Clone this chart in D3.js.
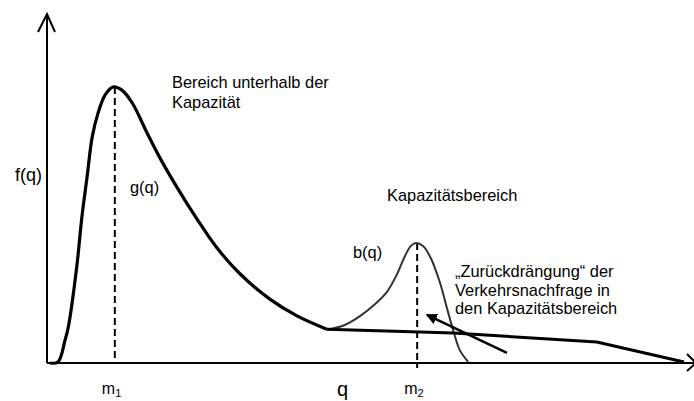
<!DOCTYPE html>
<html lang="de">
<head>
    <meta charset="UTF-8">
    <title>Verkehrsnachfrage f(q)</title>
    <style>
        body {
            margin: 0;
            background: #fff;
        }
        svg {
            display: block;
            font-family: "Liberation Sans", Arial, sans-serif;
        }
        .label {
            font-size: 16.4px;
            fill: #000;
        }
    </style>
    <script src="https://d3js.org/d3.v7.min.js"></script>
</head>
<body>
    <svg id="chart" width="694" height="401"></svg>
    <script>
        // total demand curve: g(q) below capacity, then the flat tail
        const gCurve = [
            [0.5, 0], [1.7, 0.3], [2.8, 6.6], [3.3, 10.3], [4.6, 27.5], [5.4, 41.8],
            [6.2, 53.3], [7.0, 64.8], [7.9, 71.6], [9.0, 76.8], [10.2, 79.1], [11.6, 78.2],
            [13.2, 74.5], [15.5, 65.9], [17.5, 58.7], [20.1, 50.4], [23.2, 41.3], [26.3, 33.0],
            [29.9, 25.5], [34.5, 18.3], [38.7, 13.5], [43.3, 9.7]
        ];
        const tail = [[43.3, 9.7], [62.9, 8.6], [85.1, 6.0], [98.6, 0.3]];

        // b(q): demand pushed into the capacity range
        const bCurve = [
            [43.3, 9.5], [46.1, 10.9], [48.5, 13.5], [50.8, 16.9], [52.6, 20.3], [54.2, 25.5],
            [55.4, 30.6], [56.3, 33.5], [57.1, 34.4], [58.2, 33.5], [59.4, 30.1], [60.8, 23.2],
            [61.9, 15.8], [63.0, 8.6], [63.9, 3.7], [65.2, 0.3]
        ];

        // modes m1, m2: [q, top of dashed line, bottom of dashed line]
        const modes = [
            { name: "m", sub: "1", q: 10.5, top: 79.1, bottom: 1.4 },
            { name: "m", sub: "2", q: 57.3, top: 34.4, bottom: -1.4 }
        ];

        // arrow "Zurückdrängung": from [q, f] to [q, f]
        const pushArrow = [[71.2, 2.9], [58.8, 13.8]];

        const svg = d3.select("#chart");

        const x = d3.scaleLinear().domain([0, 100]).range([47, 693]);
        const y = d3.scaleLinear().domain([0, 100]).range([363, 14]);

        const defs = svg.append("defs");
        defs.append("marker")
            .attr("id", "head")
            .attr("viewBox", "0 0 10 10")
            .attr("refX", 9)
            .attr("refY", 5)
            .attr("markerWidth", 11)
            .attr("markerHeight", 11)
            .attr("markerUnits", "userSpaceOnUse")
            .attr("orient", "auto")
            .append("path")
            .attr("d", "M0,0 L10,5 L0,10 z")
            .attr("fill", "#000");

        // axes (no ticks in this sketch)
        const ax = svg.append("g").attr("stroke", "#000").attr("fill", "none").attr("stroke-width", 2);
        ax.append("line")
            .attr("x1", x(0)).attr("y1", y(0))
            .attr("x2", x(0)).attr("y2", y(100));
        ax.append("path")
            .attr("d", `M${x(0) - 9},${y(100) + 18} L${x(0)},${y(100)} L${x(0) + 8},${y(100) + 18}`);
        ax.append("line")
            .attr("x1", x(0)).attr("y1", y(0))
            .attr("x2", x(100) + 2).attr("y2", y(0));
        ax.append("path")
            .attr("d", `M${x(100) - 6},${y(0) - 9} L${x(100) + 3},${y(0)} L${x(100) - 6},${y(0) + 8}`);

        const line = d3.line()
            .x(d => x(d[0]))
            .y(d => y(d[1]));

        // mode lines
        svg.selectAll(".mode")
            .data(modes)
            .enter().append("line")
            .attr("class", "mode")
            .attr("x1", d => x(d.q)).attr("x2", d => x(d.q))
            .attr("y1", d => y(d.top)).attr("y2", d => y(d.bottom))
            .attr("stroke", "#000")
            .attr("stroke-width", 2)
            .attr("stroke-dasharray", "7,4");

        svg.append("path")
            .datum(bCurve)
            .attr("d", line.curve(d3.curveCatmullRom))
            .attr("fill", "none")
            .attr("stroke", "#333")
            .attr("stroke-width", 2);

        svg.append("path")
            .datum(gCurve)
            .attr("d", line.curve(d3.curveCatmullRom))
            .attr("fill", "none")
            .attr("stroke", "#000")
            .attr("stroke-width", 3.2)
            .attr("stroke-linejoin", "round");

        svg.append("path")
            .datum(tail)
            .attr("d", line.curve(d3.curveLinear))
            .attr("fill", "none")
            .attr("stroke", "#000")
            .attr("stroke-width", 3)
            .attr("stroke-linejoin", "round");

        svg.append("line")
            .attr("x1", x(pushArrow[0][0])).attr("y1", y(pushArrow[0][1]))
            .attr("x2", x(pushArrow[1][0])).attr("y2", y(pushArrow[1][1]))
            .attr("stroke", "#000")
            .attr("stroke-width", 2.6)
            .attr("marker-end", "url(#head)");

        // texts
        const texts = [
            { t: "Bereich unterhalb der", x: 172, y: 88 },
            { t: "Kapazität", x: 172, y: 108 },
            { t: "g(q)", x: 130, y: 193 },
            { t: "Kapazitätsbereich", x: 387, y: 201 },
            { t: "b(q)", x: 353, y: 258 },
            { t: "\u201EZurückdrängung\u201C der", x: 455, y: 277 },
            { t: "Verkehrsnachfrage in", x: 455, y: 296 },
            { t: "den Kapazitätsbereich", x: 455, y: 314 }
        ];
        svg.selectAll(".label")
            .data(texts)
            .enter().append("text")
            .attr("class", "label")
            .attr("x", d => d.x)
            .attr("y", d => d.y)
            .text(d => d.t);

        svg.append("text")
            .attr("x", 15).attr("y", 181)
            .style("font-size", "18px")
            .attr("fill", "#000")
            .text("f(q)");

        svg.append("text")
            .attr("x", 337).attr("y", 396)
            .style("font-size", "20px")
            .attr("fill", "#000")
            .text("q");

        const mLab = svg.selectAll(".mlab")
            .data(modes)
            .enter().append("text")
            .attr("class", "mlab")
            .attr("x", d => x(d.q) - 13)
            .attr("y", 394)
            .attr("fill", "#000")
            .style("font-size", "16px");
        mLab.append("tspan").text(d => d.name);
        mLab.append("tspan")
            .attr("dy", 3)
            .style("font-size", "11px")
            .text(d => d.sub);
    </script>
</body>
</html>
